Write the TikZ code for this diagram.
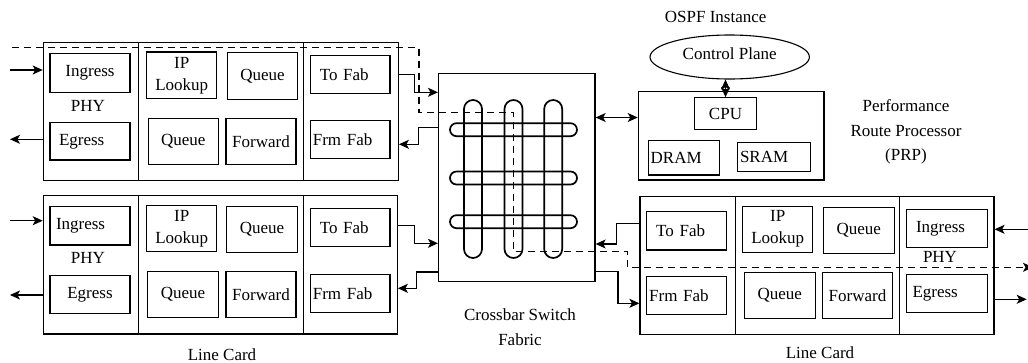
\documentclass[tikz,border=0pt]{standalone}
\usepackage{fontspec}
\setmainfont{Liberation Serif}
\usetikzlibrary{arrows.meta,shapes.geometric}

\tikzset{
  every node/.style={font=\fontsize{17}{22}\selectfont, inner sep=0pt},
  box/.style={draw, line width=1.1pt, minimum width=#1},
  box/.default=80,
  card/.style={draw, line width=1.2pt},
  tube/.style={draw, line width=1.7pt, rounded corners=#1},
  lft/.style={text width=#1, align=left},
  link/.style={line width=1.1pt},
  flow/.style={line width=1.2pt, dash pattern=on 7pt off 5pt},
  >={Stealth[length=10pt,width=9pt,inset=2.5pt]}
}

\begin{document}
\begin{tikzpicture}[x=1pt,y=-1pt]
\useasboundingbox (0,0) rectangle (1028,362);

% ---------- upper left line card ----------
\node[card, minimum width=355, minimum height=138] (card1) at (220.8,111.7) {};
\draw[link] (138.7,42.7) -- (138.7,180.7) (303.3,42.7) -- (303.3,180.7);
\node[box, minimum height=38.7] (ing1) at (90,72.7) {Ingress};
\node[box, minimum height=37.3, lft=62] (egr1) at (90,141.3) {Egress};
\node (phy1) at (88,106) {PHY};
\node[box=70, minimum height=46.7, align=center] (ipl1) at (181.7,75.3) {IP\\Lookup};
\node[box=70.4, minimum height=46.6] (q1a) at (262.5,76) {Queue};
\node[box=70, minimum height=46] (q1b) at (183.3,141.3) {Queue};
\node[box=70, minimum height=46] (fwd1) at (261,141.3) {Forward};
\node[box=79.3, minimum height=38, lft=61] (tf1) at (350.3,74.3) {To Fab};
\node[box=79.3, minimum height=38, lft=75] (ff1) at (350.3,139.7) {Frm Fab};

% ---------- lower left line card ----------
\node[card, minimum width=354, minimum height=138.3] (card2) at (220.3,264.9) {};
\draw[link] (138.7,195.7) -- (138.7,334) (303.3,195.7) -- (303.3,334);
\node[box, minimum height=38.3, lft=68] (ing2) at (90,225.8) {Ingress};
\node[box, minimum height=37.6] (egr2) at (90,294.5) {Egress};
\node (phy2) at (88,258.3) {PHY};
\node[box=70, minimum height=46, align=center] (ipl2) at (181.7,228.7) {IP\\Lookup};
\node[box=70.6, minimum height=45.6] (q2a) at (262,229.5) {Queue};
\node[box=70.6, minimum height=45.6] (q2b) at (183,294.5) {Queue};
\node[box=70, minimum height=45.6] (fwd2) at (261,294.5) {Forward};
\node[box=79.3, minimum height=38, lft=61] (tf2) at (350.3,227.7) {To Fab};
\node[box=79.3, minimum height=38, lft=75] (ff2) at (350.3,293.3) {Frm Fab};
\node (lc2) at (222,354.5) {Line Card};

% ---------- right line card ----------
\node[card, minimum width=354, minimum height=137.6] (card3) at (817,265.5) {};
\draw[link] (735.7,196.7) -- (735.7,334.3) (899.3,196.7) -- (899.3,334.3);
\node[box, minimum height=38.3, lft=61] (tf3) at (686.7,230.8) {To Fab};
\node[box, minimum height=37.6, lft=75] (ff3) at (686.7,295.5) {Frm Fab};
\node[box=70, minimum height=46.3, align=center] (ipl3) at (777.7,229.2) {IP\\Lookup};
\node[box=70.7, minimum height=46] (q3a) at (858.7,230.3) {Queue};
\node[box=70.7, minimum height=46] (q3b) at (779.7,295.3) {Queue};
\node[box=70.4, minimum height=46] (fwd3) at (857.5,295.3) {Forward};
\node[box=80.6, minimum height=38.4, lft=62] (ing3) at (947,228.5) {Ingress};
\node[box=80.6, minimum height=38.4, lft=69] (egr3) at (947,293.5) {Egress};
\node (phy3) at (940,256.7) {PHY};
\node (lc3) at (820,352.5) {Line Card};

% ---------- crossbar switch fabric ----------
\node[card, minimum width=156.5, minimum height=208.4] (xbar) at (516.8,177.5) {};
\node[tube=9, minimum width=18, minimum height=158] (vt1) at (473,179) {};
\node[tube=9, minimum width=18, minimum height=158] (vt2) at (513.5,179) {};
\node[tube=9, minimum width=18, minimum height=158] (vt3) at (553.2,179) {};
\node[tube=6.5, minimum width=127, minimum height=13] (ht1) at (513.5,129.7) {};
\node[tube=6.5, minimum width=127, minimum height=13] (ht2) at (513.5,178) {};
\node[tube=6.5, minimum width=127, minimum height=13] (ht3) at (513.5,221.7) {};
\node[align=center, font=\fontsize{17}{25}\selectfont] (xlab) at (520,327.5) {Crossbar Switch\\Fabric};

% ---------- route processor ----------
\node (ospf) at (715.7,16.7) {OSPF Instance};
\node[ellipse, draw, line width=1.1pt, minimum width=159.4, minimum height=44] (ctrl) at (729.7,57) {};
\node at (729.7,54) {Control Plane};
\node[card, minimum width=185.7, minimum height=88.3] (prp) at (731.2,135.8) {};
\node[box=62.4, minimum height=31.6] (cpu) at (725.5,113.5) {CPU};
\node[box=70.7, minimum height=34.3, lft=66] (dram) at (683.7,157.8) {DRAM};
\node[box=73.4, minimum height=29, lft=68] (sram) at (774,157.2) {SRAM};
\node[align=center, font=\fontsize{17}{24.5}\selectfont] (prplab) at (906,132.3) {Performance\\Route Processor\\(PRP)};

% ---------- external ports ----------
\coordinate (in1) at (10,70);
\coordinate (out1) at (10,139.3);
\coordinate (in2) at (10,220.7);
\coordinate (out2) at (10,295);
\coordinate (in3) at (1030,229.3);
\coordinate (out3) at (1026.7,299.3);
\draw[link,->] (in1) -- (in1 -| card1.west);
\draw[link,->] (out1 -| card1.west) -- (out1);
\draw[link,->] (in2) -- (in2 -| card2.west);
\draw[link,->] (out2 -| card2.west) -- (out2);
\draw[link,->] (in3) -- (in3 -| card3.east);
\draw[link,->] (out3 -| card3.east) -- (out3);

% ---------- fabric connections ----------
\draw[link,->] (card1.east |- tf1) -- ++(15.7,0) |- (xbar.west |- 0,92.3);
\draw[link,->] (xbar.west |- 0,127.3) -- ++(-19.2,0) |- (card1.east |- 0,144.3);
\draw[link,->] (card2.east |- 0,225.7) -- ++(17,0) |- (xbar.west |- 0,243.3);
\draw[link,->] (xbar.west |- 0,272) -- ++(-21.8,0) |- (card2.east |- 0,288.3);
\draw[link,->] (card3.west |- 0,223.3) -- ++(-22.7,0) |- (xbar.east |- 0,244);
\draw[link,->] (xbar.east |- 0,271.7) -- ++(22.3,0) |- (card3.west |- 0,303.3);
\draw[link,<->] (xbar.east |- 0,117.5) -- (prp.west |- 0,117.5);
\draw[link,<->] (cpu.north) -- (cpu.north |- ctrl.south);

% ---------- packet path ----------
\coordinate (dstart) at (12,47.5);
\coordinate (dend) at (1033,267.3);
\draw[flow,->] (dstart) -| (419,112.5) -- (vt2.center |- 0,112.5)
  -- (vt2.center |- 0,251.5) -- (627.3,251.5) |- (dend);

\end{tikzpicture}
\end{document}
